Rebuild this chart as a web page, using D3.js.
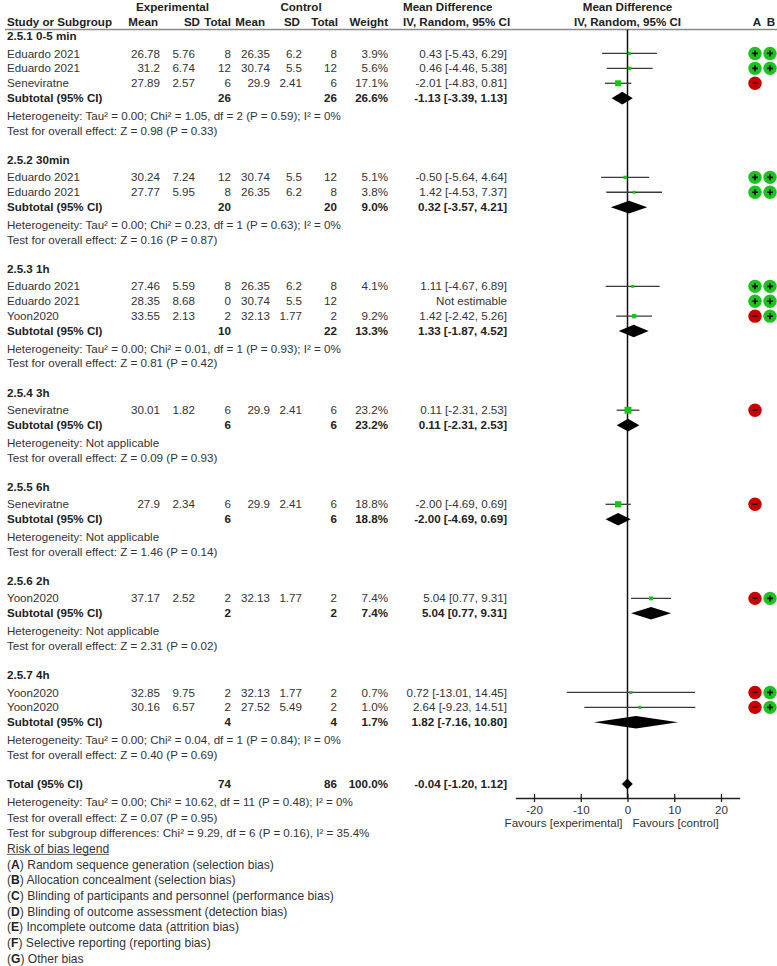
<!DOCTYPE html>
<html>
<head>
<meta charset="utf-8">
<script src="https://cdn.jsdelivr.net/npm/d3@7"></script>
<style>
  body { margin: 0; background: #fff; }
  text { font-family: "Liberation Sans", Arial, sans-serif; font-size: 11.6px; fill: #333; }
  .b { font-weight: bold; fill: #222; }
  .lg { font-size: 12.1px; }
</style>
</head>
<body>
<svg id="chart" width="777" height="966"></svg>
<script>
// ---- subgroups ----
const groupNames = ['2.5.1 0-5 min', '2.5.2 30min', '2.5.3 1h', '2.5.4 3h', '2.5.5 6h', '2.5.6 2h', '2.5.7 4h'];
const groupHet = [
  'Tau² = 0.00; Chi² = 1.05, df = 2 (P = 0.59); I² = 0%',
  'Tau² = 0.00; Chi² = 0.23, df = 1 (P = 0.63); I² = 0%',
  'Tau² = 0.00; Chi² = 0.01, df = 1 (P = 0.93); I² = 0%',
  'Not applicable',
  'Not applicable',
  'Not applicable',
  'Tau² = 0.00; Chi² = 0.04, df = 1 (P = 0.84); I² = 0%'
];
const groupZ = ['Z = 0.98 (P = 0.33)', 'Z = 0.16 (P = 0.87)', 'Z = 0.81 (P = 0.42)', 'Z = 0.09 (P = 0.93)',
  'Z = 1.46 (P = 0.14)', 'Z = 2.31 (P = 0.02)', 'Z = 0.40 (P = 0.69)'];
const groupExpN = [26, 20, 10, 6, 6, 2, 4];
const groupCtlN = [26, 20, 22, 6, 6, 2, 4];
const groupWeight = [26.6, 9.0, 13.3, 23.2, 18.8, 7.4, 1.7];
const groupMD = [-1.13, 0.32, 1.33, 0.11, -2.00, 5.04, 1.82];
const groupLow = [-3.39, -3.57, -1.87, -2.31, -4.69, 0.77, -7.16];
const groupHigh = [1.13, 4.21, 4.52, 2.53, 0.69, 9.31, 10.80];

// ---- studies ----
const studyGroup = [0, 0, 0, 1, 1, 2, 2, 2, 3, 4, 5, 6, 6];
const studyNames = ['Eduardo 2021', 'Eduardo 2021', 'Seneviratne', 'Eduardo 2021', 'Eduardo 2021', 'Eduardo 2021',
  'Eduardo 2021', 'Yoon2020', 'Seneviratne', 'Seneviratne', 'Yoon2020', 'Yoon2020', 'Yoon2020'];
const expMean = [26.78, 31.2, 27.89, 30.24, 27.77, 27.46, 28.35, 33.55, 30.01, 27.9, 37.17, 32.85, 30.16];
const expSD = [5.76, 6.74, 2.57, 7.24, 5.95, 5.59, 8.68, 2.13, 1.82, 2.34, 2.52, 9.75, 6.57];
const expN = [8, 12, 6, 12, 8, 8, 0, 2, 6, 6, 2, 2, 2];
const ctlMean = [26.35, 30.74, 29.9, 30.74, 26.35, 26.35, 30.74, 32.13, 29.9, 29.9, 32.13, 32.13, 27.52];
const ctlSD = [6.2, 5.5, 2.41, 5.5, 6.2, 6.2, 5.5, 1.77, 2.41, 2.41, 1.77, 1.77, 5.49];
const ctlN = [8, 12, 6, 12, 8, 8, 12, 2, 6, 6, 2, 2, 2];
const studyWeight = [3.9, 5.6, 17.1, 5.1, 3.8, 4.1, null, 9.2, 23.2, 18.8, 7.4, 0.7, 1.0];
const studyMD = [0.43, 0.46, -2.01, -0.50, 1.42, 1.11, null, 1.42, 0.11, -2.00, 5.04, 0.72, 2.64];
const studyLow = [-5.43, -4.46, -4.83, -5.64, -4.53, -4.67, null, -2.42, -2.31, -4.69, 0.77, -13.01, -9.23];
const studyHigh = [6.29, 5.38, 0.81, 4.64, 7.37, 6.89, null, 5.26, 2.53, 0.69, 9.31, 14.45, 14.51];
const biasA = ['+', '+', '-', '+', '+', '+', '+', '-', '-', '-', '-', '-', '-'];
const biasB = ['+', '+', null, '+', '+', '+', '+', '+', null, null, '+', '+', '+'];

// ---- overall ----
const totalExpN = 74, totalCtlN = 86, totalWeight = 100.0;
const totalMD = -0.04, totalLow = -1.20, totalHigh = 1.12;
const footerLines = [
  'Heterogeneity: Tau² = 0.00; Chi² = 10.62, df = 11 (P = 0.48); I² = 0%',
  'Test for overall effect: Z = 0.07 (P = 0.95)',
  'Test for subgroup differences: Chi² = 9.29, df = 6 (P = 0.16), I² = 35.4%'
];
const legendLetters = ['A', 'B', 'C', 'D', 'E', 'F', 'G'];
const legendTexts = [
  'Random sequence generation (selection bias)',
  'Allocation concealment (selection bias)',
  'Blinding of participants and personnel (performance bias)',
  'Blinding of outcome assessment (detection bias)',
  'Incomplete outcome data (attrition bias)',
  'Selective reporting (reporting bias)',
  'Other bias'
];
const xTicks = [-20, -10, 0, 10, 20];

const svg = d3.select('#chart');
const fmt2 = v => v.toFixed(2);   // plain hyphen for negatives, like RevMan
const fmtW = v => v == null ? '' : v.toFixed(1) + '%';
const ciText = (m, l, h) => m == null ? 'Not estimable' : `${fmt2(m)} [${fmt2(l)}, ${fmt2(h)}]`;

// column anchors
const col = { name: 7, eMean: 160, eSD: 195, eN: 231, cMean: 270, cSD: 302, cN: 337, w: 388, ci: 507, rA: 755, rB: 770 };

// build row layout in row units
let u = 0;
const rows = [];
groupNames.forEach((g, gi) => {
  rows.push({ type: 'group', gi, u }); u += 1.17;
  studyGroup.forEach((sg, si) => { if (sg === gi) { rows.push({ type: 'study', si, u }); u += 1; } });
  rows.push({ type: 'sub', gi, u }); u += 1.17;
  rows.push({ type: 'het', gi, u }); u += 1;
  rows.push({ type: 'z', gi, u }); u += 1.97;
});
const totalU = u;
rows.push({ type: 'total', u });
u += 1.2;
const footerU = footerLines.map((t, i) => u + i * 1.05);
const legendTitleU = u + footerLines.length * 1.05;
const legendU = legendLetters.map((t, i) => legendTitleU + (i + 1) * 1.05);

const y = d3.scaleLinear().domain([0, totalU]).range([36, 784]);
const x = d3.scaleLinear().domain([-24, 24]).range([515.3, 739.7]);
const axisY = 798;

function txt(xp, yp, s, anchor, bold) {
  return svg.append('text').attr('x', xp).attr('y', yp).attr('dy', '0.35em')
    .attr('text-anchor', anchor || 'start').attr('class', bold ? 'b' : null).text(s);
}

// ---- header ----
txt(172.5, 7, 'Experimental', 'middle', true);
txt(301, 7, 'Control', 'middle', true);
txt(403, 7, 'Mean Difference', 'start', true);
txt(x(0), 7, 'Mean Difference', 'middle', true);
txt(col.name, 22, 'Study or Subgroup', 'start', true);
txt(158, 22, 'Mean', 'end', true);
txt(200, 22, 'SD', 'end', true);
txt(231, 22, 'Total', 'end', true);
txt(265, 22, 'Mean', 'end', true);
txt(300, 22, 'SD', 'end', true);
txt(338, 22, 'Total', 'end', true);
txt(388, 22, 'Weight', 'end', true);
txt(403, 22, 'IV, Random, 95% CI', 'start', true);
txt(x(0), 22, 'IV, Random, 95% CI', 'middle', true);
txt(757, 22, 'A', 'middle', true);
txt(771, 22, 'B', 'middle', true);
svg.append('line').attr('x1', 5).attr('x2', 777).attr('y1', 29.5).attr('y2', 29.5)
  .attr('stroke', '#8a8a8a').attr('stroke-width', 1.6);

// zero line
svg.append('line').attr('x1', x(0)).attr('x2', x(0)).attr('y1', 29.5).attr('y2', axisY)
  .attr('stroke', '#111').attr('stroke-width', 1.5);

function diamond(yp, m, l, h, hh) {
  svg.append('path')
    .attr('d', `M${x(l)},${yp}L${x(m)},${yp - hh}L${x(h)},${yp}L${x(m)},${yp + hh}Z`)
    .attr('fill', '#000');
}

function biasDot(cx, cy, v) {
  if (!v) return;
  svg.append('circle').attr('cx', cx).attr('cy', cy).attr('r', 6.7)
    .attr('fill', v === '+' ? '#1ec21e' : '#c80000');
  const p = v === '+' ? `M${cx - 3},${cy}h6M${cx},${cy - 3}v6` : `M${cx - 2.5},${cy}h5`;
  svg.append('path').attr('d', p).attr('stroke', '#111').attr('stroke-width', v === '+' ? 1.7 : 1.3);
}

// ---- rows ----
rows.forEach(r => {
  const yp = y(r.u);
  if (r.type === 'group') {
    txt(col.name, yp, groupNames[r.gi], 'start', true);
  } else if (r.type === 'study') {
    const i = r.si;
    txt(col.name, yp, studyNames[i]);
    txt(col.eMean, yp, String(expMean[i]), 'end');
    txt(col.eSD, yp, String(expSD[i]), 'end');
    txt(col.eN, yp, String(expN[i]), 'end');
    txt(col.cMean, yp, String(ctlMean[i]), 'end');
    txt(col.cSD, yp, String(ctlSD[i]), 'end');
    txt(col.cN, yp, String(ctlN[i]), 'end');
    txt(col.w, yp, fmtW(studyWeight[i]), 'end');
    txt(col.ci, yp, ciText(studyMD[i], studyLow[i], studyHigh[i]), 'end');
    if (studyMD[i] != null) {
      svg.append('line').attr('x1', x(studyLow[i])).attr('x2', x(studyHigh[i]))
        .attr('y1', yp).attr('y2', yp).attr('stroke', '#3a3a3a').attr('stroke-width', 1.3);
      const s = Math.max(3, 1.45 * Math.sqrt(studyWeight[i]));
      svg.append('rect').attr('x', x(studyMD[i]) - s / 2).attr('y', yp - s / 2)
        .attr('width', s).attr('height', s).attr('fill', '#12c912');
    }
    biasDot(col.rA, yp, biasA[i]);
    biasDot(col.rB, yp, biasB[i]);
  } else if (r.type === 'sub') {
    const g = r.gi;
    txt(col.name, yp, 'Subtotal (95% CI)', 'start', true);
    txt(col.eN, yp, String(groupExpN[g]), 'end', true);
    txt(col.cN, yp, String(groupCtlN[g]), 'end', true);
    txt(col.w, yp, fmtW(groupWeight[g]), 'end', true);
    txt(col.ci, yp, ciText(groupMD[g], groupLow[g], groupHigh[g]), 'end', true);
    diamond(yp, groupMD[g], groupLow[g], groupHigh[g], 6.3);
  } else if (r.type === 'het') {
    txt(col.name, yp, 'Heterogeneity: ' + groupHet[r.gi]);
  } else if (r.type === 'z') {
    txt(col.name, yp, 'Test for overall effect: ' + groupZ[r.gi]);
  } else if (r.type === 'total') {
    txt(col.name, yp, 'Total (95% CI)', 'start', true);
    txt(col.eN, yp, String(totalExpN), 'end', true);
    txt(col.cN, yp, String(totalCtlN), 'end', true);
    txt(col.w, yp, fmtW(totalWeight), 'end', true);
    txt(col.ci, yp, ciText(totalMD, totalLow, totalHigh), 'end', true);
    diamond(yp, totalMD, totalLow, totalHigh, 5.5);
  }
});

// ---- footer ----
footerLines.forEach((t, i) => txt(col.name, y(footerU[i]), t));
const lt = txt(col.name, y(legendTitleU), 'Risk of bias legend').classed('lg', true);
const ltw = lt.node().getComputedTextLength();
svg.append('line').attr('x1', col.name).attr('x2', col.name + ltw)
  .attr('y1', y(legendTitleU) + 5.5).attr('y2', y(legendTitleU) + 5.5)
  .attr('stroke', '#444').attr('stroke-width', 0.9);
legendLetters.forEach((l, i) => {
  const t = svg.append('text').attr('class', 'lg').attr('x', col.name).attr('y', y(legendU[i])).attr('dy', '0.35em');
  t.append('tspan').text('(');
  t.append('tspan').attr('class', 'b').text(l);
  t.append('tspan').text(') ' + legendTexts[i]);
});

// ---- axis ----
const axis = d3.axisBottom(x).tickValues(xTicks).tickFormat(d => String(d))
  .tickSizeOuter(0).tickSizeInner(4).tickPadding(4);
const ag = svg.append('g').attr('transform', `translate(0,${axisY})`).call(axis);
ag.select('.domain').attr('stroke', '#222').attr('stroke-width', 1.3);
ag.selectAll('.tick line').attr('y1', -4).attr('y2', 4).attr('stroke', '#222').attr('stroke-width', 1.3);
ag.selectAll('.tick text').attr('fill', '#333').style('font-size', '11.6px')
  .style('font-family', '"Liberation Sans", Arial, sans-serif');
txt(x(0) - 5, 823, 'Favours [experimental]', 'end');
txt(x(0) + 5, 823, 'Favours [control]', 'start');
</script>
</body>
</html>
